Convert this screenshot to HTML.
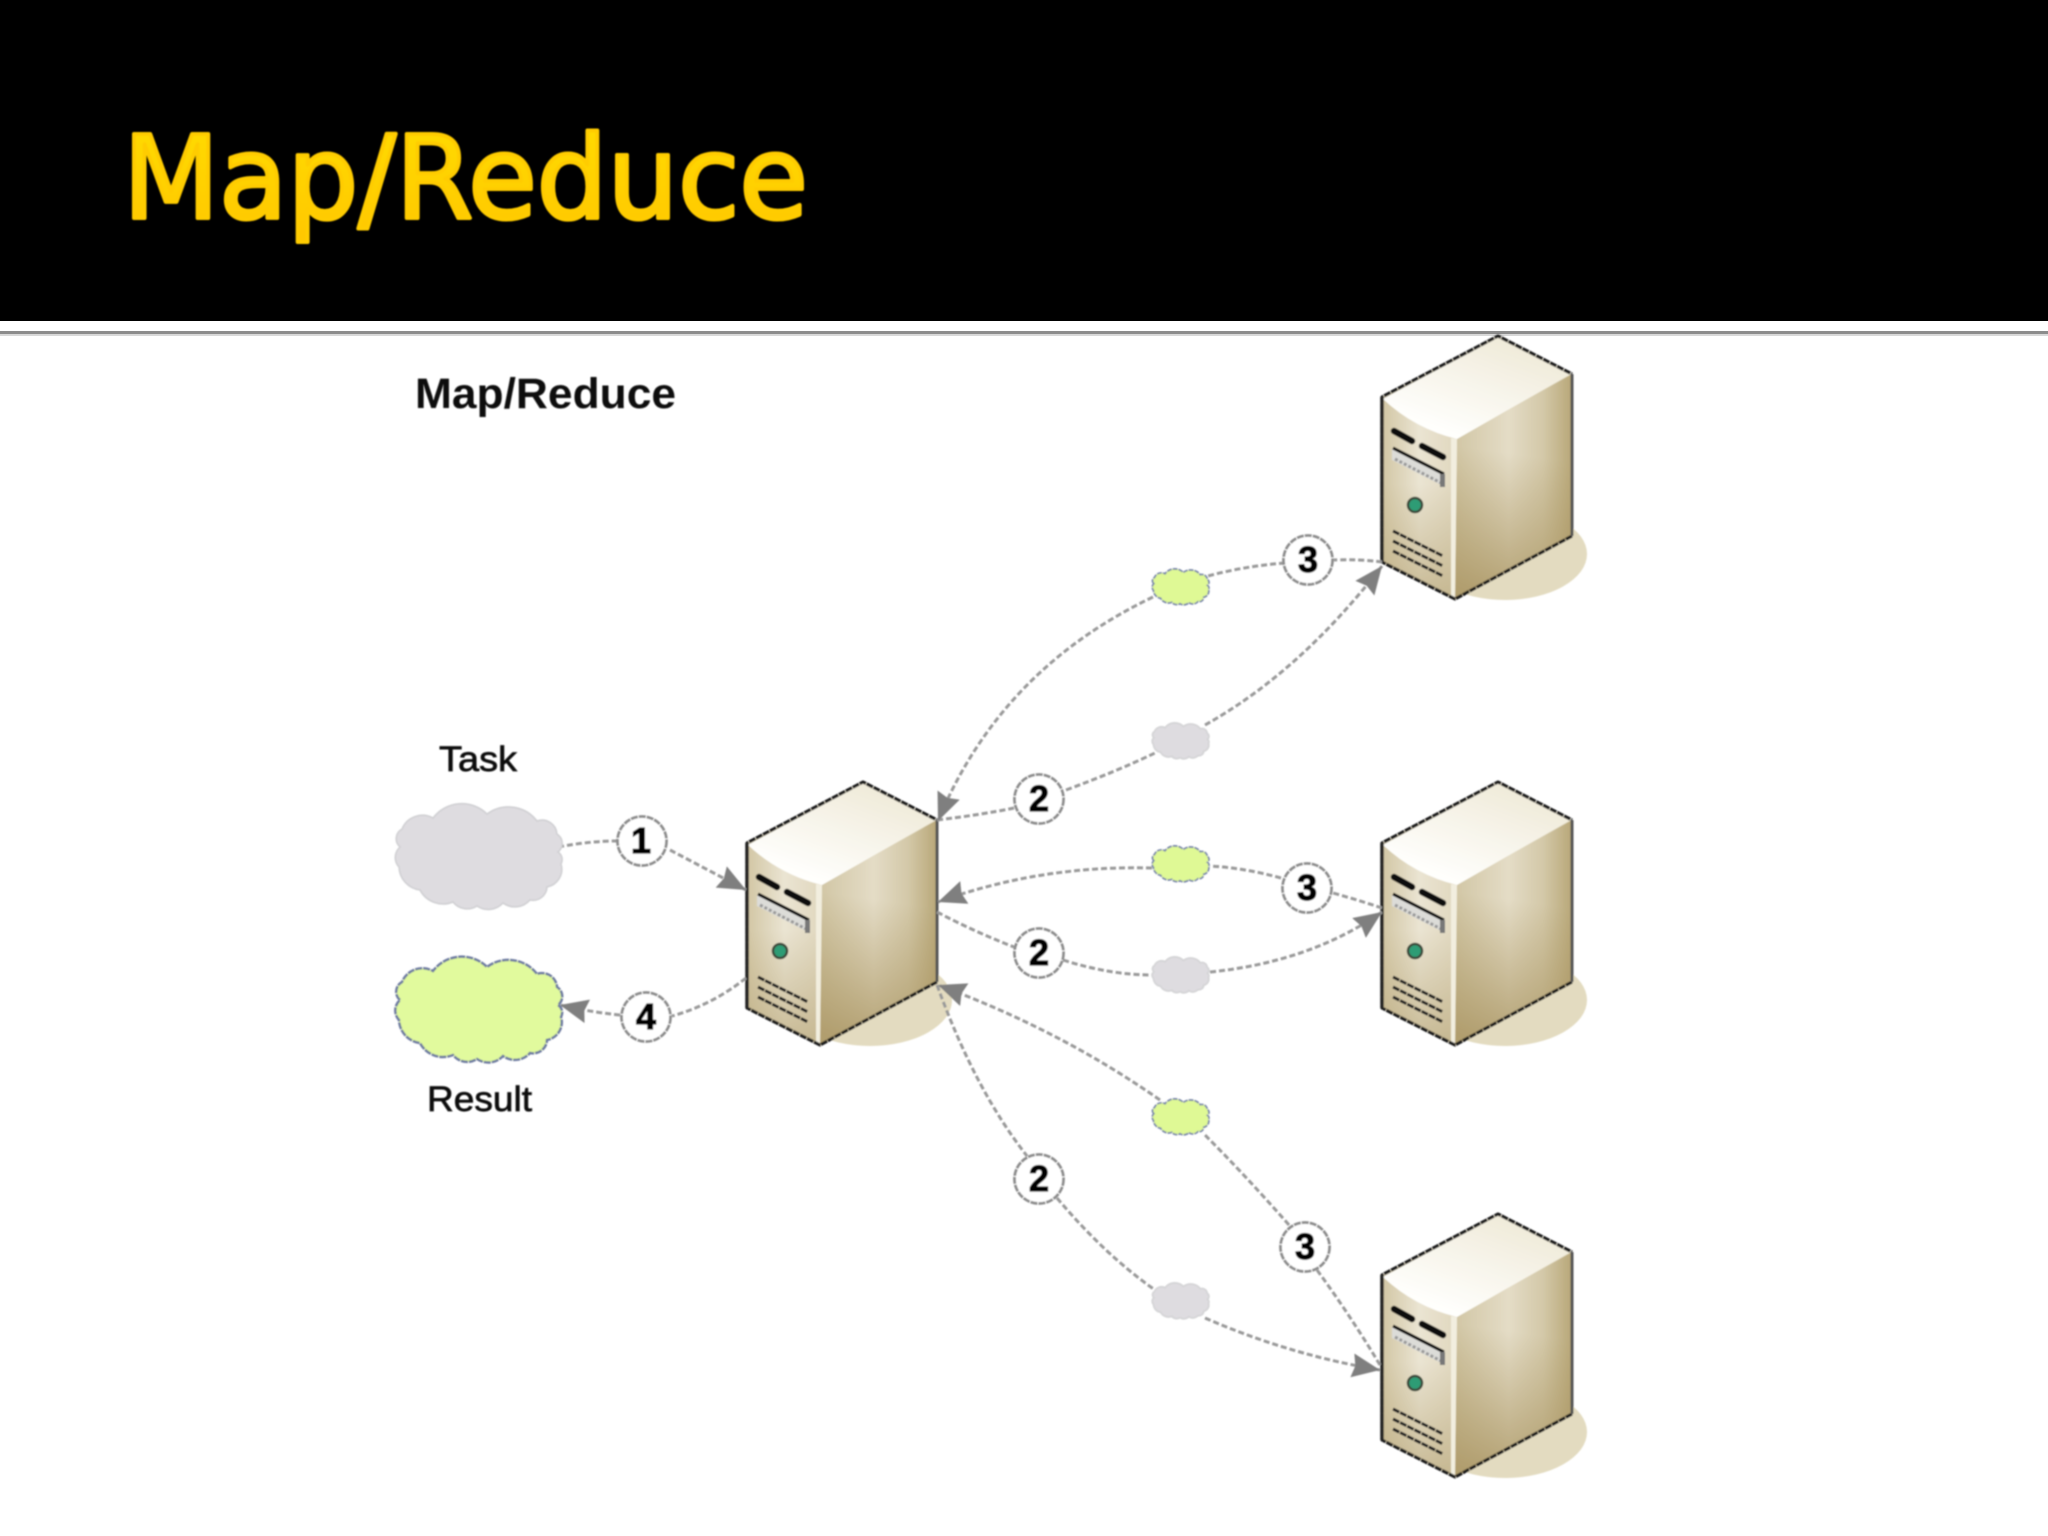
<!DOCTYPE html>
<html><head><meta charset="utf-8"><title>Map/Reduce</title>
<style>
html,body{margin:0;padding:0;background:#fff;width:2048px;height:1536px;overflow:hidden}
svg{display:block}
</style></head><body>
<svg xmlns="http://www.w3.org/2000/svg" width="2048" height="1536" viewBox="0 0 2048 1536">
<defs>
<filter id="soft" x="0" y="0" width="2048" height="1536" filterUnits="userSpaceOnUse"><feGaussianBlur stdDeviation="0.8"/></filter>
<linearGradient id="gt" x1="0" y1="0" x2="0" y2="1"><stop offset="0" stop-color="#FFDD00"/><stop offset="1" stop-color="#FFC600"/></linearGradient>
<linearGradient id="top" x1="863" y1="785" x2="825" y2="885" gradientUnits="userSpaceOnUse"><stop offset="0" stop-color="#F0EBDA"/><stop offset="1" stop-color="#FFFFFD"/></linearGradient>
<linearGradient id="right" x1="822" y1="900" x2="937" y2="900" gradientUnits="userSpaceOnUse"><stop offset="0" stop-color="#D2C7A6"/><stop offset=".45" stop-color="#E4DCC6"/><stop offset=".75" stop-color="#D3C8A8"/><stop offset="1" stop-color="#B8A778"/></linearGradient>
<linearGradient id="rshade" x1="880" y1="900" x2="860" y2="1040" gradientUnits="userSpaceOnUse"><stop offset="0" stop-color="#A8935F" stop-opacity="0"/><stop offset="1" stop-color="#A8935F" stop-opacity=".8"/></linearGradient>
<linearGradient id="left" x1="747" y1="900" x2="822" y2="900" gradientUnits="userSpaceOnUse"><stop offset="0" stop-color="#D2C6A4"/><stop offset=".5" stop-color="#EAE4D2"/><stop offset="1" stop-color="#E0D7BE"/></linearGradient>
<linearGradient id="lshade" x1="780" y1="930" x2="780" y2="1040" gradientUnits="userSpaceOnUse"><stop offset="0" stop-color="#BBAA7E" stop-opacity="0"/><stop offset="1" stop-color="#BBAA7E" stop-opacity=".7"/></linearGradient>
<marker id="a" markerUnits="userSpaceOnUse" markerWidth="30" markerHeight="26" refX="28" refY="12" orient="auto"><path d="M0 0L28 12L0 24L3 12Z" fill="#7F7F7F"/></marker>
<g id="server">
<ellipse cx="870" cy="1000" rx="82" ry="46" fill="#E3DBC0"/>
<path d="M747 843L863 782L937 820V982L820 1045L747 1008Z" fill="#DDD4B8"/>
<path d="M822 885L937 820V982L820 1045Z" fill="url(#right)"/>
<path d="M822 885L937 820V982L820 1045Z" fill="url(#rshade)"/>
<path d="M748 845Q780 875 822 885L820 1045L747 1008Z" fill="url(#left)"/>
<path d="M748 845Q780 875 822 885L820 1045L747 1008Z" fill="url(#lshade)"/>
<path d="M816 884L822 885L820 1045L816 1043Z" fill="#F2EEDF"/>
<path d="M748 845L863 783L936 820L822 885Q780 875 748 845Z" fill="url(#top)"/>
<path d="M937 982L820 1045L747 1008V843L863 782L937 820" fill="none" stroke="#1a1a1a" stroke-width="3.2" stroke-dasharray="7 .8" stroke-linejoin="round"/>
<path d="M937 820V982" fill="none" stroke="#555" stroke-width="3"/>
<path d="M747 843V1008" fill="none" stroke="#222" stroke-width="3.4"/>
<path d="M759 877L777 887M787 892L808 903" stroke="#111" stroke-width="6.5" fill="none" stroke-linecap="round"/>
<path d="M757 895L810 920V933L757 906Z" fill="#DCDCD8"/>
<path d="M758 894L809 920" stroke="#111" stroke-width="3.2" fill="none"/>
<path d="M760 905L808 930" stroke="#999" stroke-width="3" stroke-dasharray="3 2" fill="none"/>
<rect x="805" y="920" width="5" height="13" fill="#777"/>
<circle cx="780" cy="951" r="7" fill="#2F9C74" stroke="#3a4a3a" stroke-width="2.5"/>
<path d="M758 977L808 1002M758 987L808 1012M758 997L808 1022" stroke="#222" stroke-width="3" stroke-dasharray="7 1" fill="none"/>
</g>
<path id="cloud" d="M-80 -10A11 11 0 0 1 -78 -28A22 22 0 0 1 -47 -39A36 36 0 0 1 7 -43A36 36 0 0 1 57 -36A15 15 0 0 1 77 -23A11 11 0 0 1 78 -5A9 9 0 0 1 81 7A18 18 0 0 1 67 30A14 14 0 0 1 50 43A20 20 0 0 1 23 46A20 20 0 0 1 -3 49A18 18 0 0 1 -27 45A26 26 0 0 1 -60 33A24 24 0 0 1 -81 10A14 14 0 0 1 -80 -10Z"/>
</defs>

<rect width="2048" height="1536" fill="#FFFFFF"/>
<rect width="2048" height="321" fill="#000"/>
<rect y="331" width="2048" height="3" fill="#8C8C8C"/>
<rect y="334" width="2048" height="2" fill="#D8D8D8"/>
<text x="123" y="218" font-family="'DejaVu Sans',sans-serif" font-size="115" fill="url(#gt)" stroke="#FFCC00" stroke-width="4" stroke-linejoin="round" textLength="685" lengthAdjust="spacingAndGlyphs" filter="url(#soft)">Map/Reduce</text>

<g filter="url(#soft)">
<text x="415" y="408" font-family="'Liberation Sans',sans-serif" font-weight="700" font-size="43" fill="#111" textLength="261" lengthAdjust="spacingAndGlyphs">Map/Reduce</text>
<text x="439" y="771" font-family="'Liberation Sans',sans-serif" font-size="35" fill="#111" stroke="#111" stroke-width=".7" textLength="78" lengthAdjust="spacingAndGlyphs">Task</text>
<text x="427" y="1111" font-family="'Liberation Sans',sans-serif" font-size="35" fill="#111" stroke="#111" stroke-width=".7" textLength="105" lengthAdjust="spacingAndGlyphs">Result</text>

<use href="#server"/>
<use href="#server" x="635" y="-446"/>
<use href="#server" x="635" y="0"/>
<use href="#server" x="635" y="432"/>

<g fill="none" stroke="#999" stroke-width="3" stroke-dasharray="6 3">
<path d="M558 847Q590 841 617 841"/>
<path d="M670 850L746 890" marker-end="url(#a)"/>
<path d="M746 978Q712 1005 672 1016"/>
<path d="M620 1015Q590 1012 560 1005" marker-end="url(#a)"/>
<path d="M937 820Q980 815 1014 808"/>
<path d="M1066 790Q1115 772 1155 753"/>
<path d="M1205 725Q1300 672 1382 566" marker-end="url(#a)"/>
<path d="M1382 562Q1360 559 1334 560"/>
<path d="M1285 563Q1245 566 1208 576"/>
<path d="M1153 597Q1000 670 938 821" marker-end="url(#a)"/>
<path d="M937 912Q975 932 1014 947"/>
<path d="M1063 960Q1110 975 1152 975"/>
<path d="M1210 972Q1310 962 1382 912" marker-end="url(#a)"/>
<path d="M1382 908Q1358 900 1333 893"/>
<path d="M1281 878Q1245 868 1210 866"/>
<path d="M1152 868Q1040 865 938 902" marker-end="url(#a)"/>
<path d="M937 985Q975 1090 1027 1156"/>
<path d="M1057 1198Q1105 1255 1155 1290"/>
<path d="M1205 1318Q1290 1355 1380 1370" marker-end="url(#a)"/>
<path d="M1380 1365Q1350 1315 1317 1270"/>
<path d="M1289 1225Q1245 1175 1205 1135"/>
<path d="M1160 1100Q1060 1030 938 985" marker-end="url(#a)"/>
</g>

<use href="#cloud" transform="translate(480 857)" fill="#DEDCE0" stroke="#CFCFD2" stroke-width="1.5"/>
<use href="#cloud" transform="translate(480 1010)" fill="#E1FA9D" stroke="#6E7BA0" stroke-width="2.5" stroke-dasharray="7 1"/>
<g stroke-width="5">
<use href="#cloud" transform="translate(1181 587) scale(.34)" fill="#DFF995" stroke="#7482A8" stroke-dasharray="14 3"/>
<use href="#cloud" transform="translate(1181 741) scale(.34)" fill="#DEDCE0" stroke="#D4D4D6"/>
<use href="#cloud" transform="translate(1181 864) scale(.34)" fill="#DFF995" stroke="#7482A8" stroke-dasharray="14 3"/>
<use href="#cloud" transform="translate(1181 975) scale(.34)" fill="#DEDCE0" stroke="#D4D4D6"/>
<use href="#cloud" transform="translate(1181 1117) scale(.34)" fill="#DFF995" stroke="#7482A8" stroke-dasharray="14 3"/>
<use href="#cloud" transform="translate(1181 1301) scale(.34)" fill="#DEDCE0" stroke="#D4D4D6"/>
</g>

<g fill="#fff" stroke="#8C8C8C" stroke-width="2.8" stroke-dasharray="7 1">
<circle cx="642" cy="841" r="24.5"/>
<circle cx="646" cy="1017" r="24.5"/>
<circle cx="1308" cy="560" r="24.5"/>
<circle cx="1039" cy="799" r="24.5"/>
<circle cx="1307" cy="888" r="24.5"/>
<circle cx="1039" cy="953" r="24.5"/>
<circle cx="1039" cy="1179" r="24.5"/>
<circle cx="1305" cy="1247" r="24.5"/>
</g>
<g font-family="'Liberation Sans',sans-serif" font-weight="700" font-size="36" fill="#000" stroke="#000" stroke-width="1.2" text-anchor="middle">
<text x="641" y="853">1</text>
<text x="646" y="1029">4</text>
<text x="1308" y="572">3</text>
<text x="1039" y="811">2</text>
<text x="1307" y="900">3</text>
<text x="1039" y="965">2</text>
<text x="1039" y="1191">2</text>
<text x="1305" y="1259">3</text>
</g>
</g>
</svg>
</body></html>
